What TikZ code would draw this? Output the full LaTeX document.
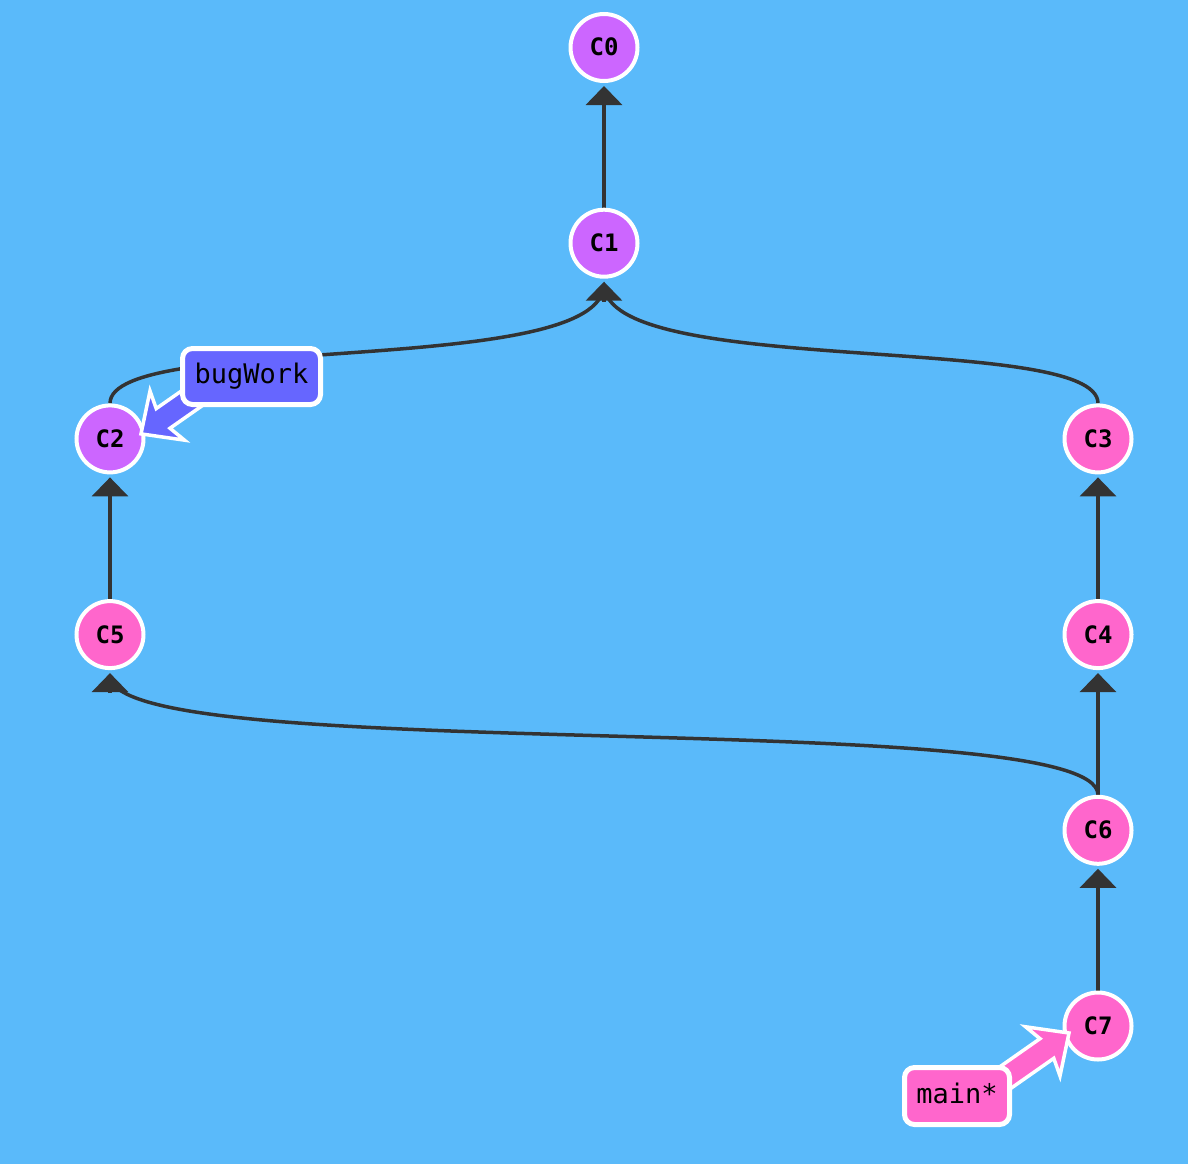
\documentclass[tikz,border=0pt]{standalone}
\usepackage{fontspec}
\setmonofont{DejaVu Sans Mono}
\usetikzlibrary{arrows.meta,calc}
\definecolor{bgblue}{HTML}{5ABAFA}
\definecolor{commitpurple}{HTML}{CC66FF}
\definecolor{commitpink}{HTML}{FF66CC}
\definecolor{branchblue}{HTML}{6666FF}
\definecolor{edgegray}{HTML}{333333}
\pgfdeclarelayer{bglayer}
\pgfdeclarelayer{edgelayer}
\pgfsetlayers{bglayer,edgelayer,main}
\begin{document}
\begin{tikzpicture}[x=1pt,y=-1pt,
  commit/.style={circle, draw=white, line width=4pt, minimum size=67pt, inner sep=0pt,
    font=\ttfamily\bfseries\fontsize{24}{24}\selectfont, text height=17pt, text depth=0pt},
  purplec/.style={commit, fill=commitpurple},
  pinkc/.style={commit, fill=commitpink},
  curveedge/.style={draw=edgegray, line width=3.5pt},
  edge/.style={curveedge, -{Triangle[width=36pt,length=19pt]}, shorten >=3pt},
  branchlabel/.style={draw=white, line width=5pt, rounded corners=10pt, inner sep=0pt,
    font=\ttfamily\fontsize{27}{27}\selectfont, text height=20pt, text depth=6pt},
  branchptr/.style={draw=white, line width=3.5pt, miter limit=10},
]
\useasboundingbox (0,0) rectangle (1188,1164);
\begin{pgfonlayer}{bglayer}
  \fill[bgblue] (0,0) rectangle (1188,1164);
\end{pgfonlayer}

% commits
\node[purplec] (C0) at (604,47.5) {C0};
\node[purplec] (C1) at (604,243.2) {C1};
\node[purplec] (C2) at (110,438.9) {C2};
\node[pinkc] (C3) at (1098,438.9) {C3};
\node[pinkc] (C5) at (110,634.6) {C5};
\node[pinkc] (C4) at (1098,634.6) {C4};
\node[pinkc] (C6) at (1098,830.3) {C6};
\node[pinkc] (C7) at (1098,1026) {C7};

% edges
\begin{pgfonlayer}{edgelayer}
  \draw[edge] (C1) -- (C0);
  \draw[curveedge] (C2.north) .. controls +(0,-72) and +(0,95) .. ($(C1.south)+(0,5.3)$);
  \draw[curveedge] (C3.north) .. controls +(0,-72) and +(0,95) .. ($(C1.south)+(0,5.3)$);
  \draw[edge] ($(C1.south)+(0,23)$) -- (C1.south);
  \draw[edge] (C5) -- (C2);
  \draw[edge] (C4) -- (C3);
  \draw[edge] (C6) -- (C4);
  \draw[curveedge] (C6.north) .. controls +(0,-90) and +(0,92) .. ($(C5.south)+(0,5.3)$);
  \draw[edge] ($(C5.south)+(0,23)$) -- (C5.south);
  \draw[edge] (C7) -- (C6);
\end{pgfonlayer}

% branch pointers
\coordinate (bugTip) at ($(C2)+(31,-5)$);
\coordinate (mainTip) at ($(C7)+(-29,7)$);
\begin{scope}[shift={(bugTip)}, rotate=215]
  \filldraw[branchptr, fill=branchblue] (0pt,0pt) -- (-32pt,30pt) -- (-27pt,12pt) -- (-100pt,12pt)
    -- (-100pt,-12pt) -- (-27pt,-12pt) -- (-32pt,-30pt) -- cycle;
\end{scope}
\begin{scope}[shift={(mainTip)}, rotate=35]
  \filldraw[branchptr, fill=commitpink] (0pt,0pt) -- (-32pt,30pt) -- (-27pt,12pt) -- (-95pt,12pt)
    -- (-95pt,-12pt) -- (-27pt,-12pt) -- (-32pt,-30pt) -- cycle;
\end{scope}

% branch labels
\node[branchlabel, fill=branchblue, minimum width=138pt, minimum height=56pt] (bugWork) at (251.5,376.5) {bugWork};
\node[branchlabel, fill=commitpink, minimum width=105pt, minimum height=57pt] (mainlabel) at (957,1096) {main*};
\end{tikzpicture}
\end{document}
